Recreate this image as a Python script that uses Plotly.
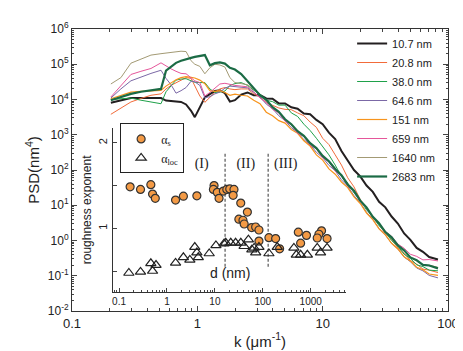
import plotly.graph_objects as go

# shared k grid (log10 of k in 1/um)
log_k = [-0.69, -0.61, -0.53, -0.45, -0.37, -0.29, -0.25, -0.21, -0.17, -0.13, -0.09,
         -0.05, -0.02, 0.02, 0.06, 0.10, 0.14, 0.18, 0.22, 0.26, 0.30, 0.35,
         0.40, 0.45, 0.50, 0.55, 0.60, 0.65, 0.70, 0.75, 0.80, 0.85, 0.90, 0.95,
         1.00, 1.05, 1.10, 1.15, 1.20, 1.25, 1.30, 1.35, 1.40, 1.45, 1.50, 1.55,
         1.60, 1.65, 1.70, 1.75, 1.80, 1.85, 1.92]

# log10 PSD (nm^4) for each scan length
psd_107 = [3.91, 3.98, 4.04, 4.04, 4.04, 4.04, 3.97, 3.96, 3.95, 3.93, 3.86,
           3.68, 3.50, 3.80, 4.06, 4.15, 4.24, 4.26, 4.18, 3.94, 3.98, 4.14,
           4.20, 4.12, 4.13, 4.03, 4.02, 3.89, 3.89, 3.78, 3.74, 3.60, 3.58, 3.42,
           3.30, 3.06, 2.88, 2.54, 2.27, 2.00, 1.82, 1.56, 1.38, 1.10, 0.94, 0.68,
           0.48, 0.20, 0.02, -0.21, -0.32, -0.47, -0.54]
psd_208 = [3.58, 3.76, 3.93, 4.03, 4.12, 4.16, 4.30, 4.40, 4.47, 4.56, 4.62,
           4.60, 4.40, 4.10, 3.92, 4.05, 4.20, 4.30, 4.34, 4.30, 4.28, 4.30,
           4.30, 4.16, 4.07, 3.91, 3.84, 3.76, 3.72, 3.71, 3.62, 3.54, 3.36, 3.21,
           2.90, 2.72, 2.43, 2.14, 1.78, 1.52, 1.16, 0.92, 0.64, 0.45, 0.19, 0.03,
           -0.21, -0.36, -0.57, -0.67, -0.81, -0.84, -0.91]
psd_380 = [4.00, 4.02, 4.04, 3.98, 3.93, 3.88, 4.22, 4.40, 4.55, 4.58, 4.59,
           4.53, 4.49, 4.48, 4.48, 4.30, 4.20, 4.21, 4.24, 4.40, 4.45, 4.48,
           4.40, 4.26, 4.16, 3.98, 3.94, 3.84, 3.84, 3.62, 3.52, 3.30, 3.12, 2.90,
           2.68, 2.43, 2.14, 1.82, 1.62, 1.35, 1.14, 0.87, 0.68, 0.42, 0.24, 0.00,
           -0.16, -0.39, -0.51, -0.69, -0.74, -0.84, -0.86]
psd_646 = [4.04, 4.30, 4.53, 4.64, 4.74, 4.83, 4.60, 4.42, 4.18, 4.25, 4.34,
           4.52, 4.50, 4.40, 4.05, 4.08, 4.16, 4.21, 4.32, 4.38, 4.36, 4.34,
           4.33, 4.20, 4.07, 3.87, 3.74, 3.54, 3.40, 3.20, 3.06, 2.86, 2.72, 2.50,
           2.35, 2.13, 1.98, 1.72, 1.54, 1.27, 1.07, 0.80, 0.60, 0.34, 0.16, -0.08,
           -0.24, -0.47, -0.60, -0.78, -0.86, -0.99, -1.06]
psd_151 = [4.02, 4.12, 4.21, 4.23, 4.24, 4.26, 4.38, 4.48, 4.56, 4.62, 4.65,
           4.63, 4.61, 4.55, 4.45, 4.25, 4.23, 4.25, 4.20, 4.12, 4.15, 4.12,
           4.10, 3.98, 3.88, 3.64, 3.54, 3.40, 3.33, 3.15, 3.04, 2.83, 2.68, 2.43,
           2.28, 2.03, 1.88, 1.66, 1.50, 1.24, 1.05, 0.78, 0.59, 0.33, 0.16, -0.08,
           -0.24, -0.46, -0.58, -0.76, -0.83, -0.95, -0.99]
psd_659 = [4.07, 4.40, 4.71, 4.80, 4.88, 5.04, 4.95, 4.87, 4.80, 4.74, 4.73,
           4.60, 4.53, 4.48, 4.10, 4.20, 4.32, 4.44, 4.46, 4.42, 4.40, 4.38,
           4.36, 4.22, 4.04, 3.92, 3.72, 3.62, 3.38, 3.28, 3.04, 2.95, 2.70, 2.60,
           2.34, 2.23, 1.97, 1.84, 1.54, 1.39, 1.10, 0.92, 0.66, 0.49, 0.26, 0.12,
           -0.10, -0.22, -0.39, -0.45, -0.55, -0.54, -0.58]
psd_1640 = [4.44, 4.62, 5.03, 5.15, 5.26, 5.30, 5.32, 5.34, 5.37, 5.37, 5.36,
            5.10, 5.00, 4.94, 4.73, 4.90, 5.00, 4.98, 4.92, 4.62, 4.48, 4.45,
            4.42, 4.29, 4.10, 3.97, 3.78, 3.64, 3.43, 3.29, 3.10, 2.96, 2.75, 2.59,
            2.38, 2.23, 2.01, 1.83, 1.57, 1.38, 1.11, 0.91, 0.65, 0.47, 0.22, 0.07,
            -0.16, -0.30, -0.49, -0.57, -0.69, -0.70, -0.76]
psd_2683 = [3.98, 4.07, 4.16, 4.22, 4.26, 4.30, 4.82, 4.93, 5.04, 5.10, 5.15,
            5.18, 5.21, 5.24, 5.26, 4.97, 5.03, 5.05, 5.02, 4.90, 4.85, 4.72,
            4.52, 4.32, 4.12, 3.99, 3.78, 3.65, 3.44, 3.30, 3.10, 2.97, 2.76, 2.62,
            2.40, 2.25, 2.03, 1.85, 1.59, 1.41, 1.13, 0.94, 0.67, 0.49, 0.24, 0.09,
            -0.14, -0.28, -0.48, -0.56, -0.69, -0.71, -0.79]

scan_labels = ["10.7 nm", "20.8 nm", "38.0 nm", "64.6 nm", "151 nm", "659 nm", "1640 nm", "2683 nm"]
scan_psd = [psd_107, psd_208, psd_380, psd_646, psd_151, psd_659, psd_1640, psd_2683]
scan_colors = ["#231f20", "#f26b3a", "#1fa14a", "#7b68a6", "#f7941d", "#e5569a", "#a39a74", "#1b6b45"]
scan_widths = [2, 1, 1, 1, 1.2, 1, 1, 2.2]

# inset: roughness exponents vs d (nm)
d_s = [0.17, 0.28, 0.46, 0.50, 0.57, 1.51, 2.2, 4.2, 9.6, 9.3, 11.2, 12.2, 15.0, 17.7,
       20.4, 25, 24, 34.6, 47.6, 31.6, 38.5, 40.8, 58.4, 70.8, 83, 83, 134, 185, 224,
       550, 815, 615, 1680, 1480, 1365, 2190]
alpha_s = [1.485, 1.455, 1.51, 1.40, 1.35, 1.33, 1.375, 1.38, 1.50, 1.455, 1.42, 1.35, 1.435, 1.455,
           1.46, 1.455, 1.386, 1.295, 1.19, 1.106, 1.094, 1.05, 1.008, 1.015, 0.98, 0.85, 0.89, 0.88, 0.76,
           0.955, 0.917, 0.826, 0.97, 0.93, 0.886, 0.88]
d_loc = [0.16, 0.28, 0.46, 0.59, 0.50, 1.51, 2.2, 3.0, 3.8, 4.2, 4.5, 7.6, 10.5, 15.5,
         16.8, 21.4, 27, 34.7, 50, 40.7, 59, 66, 83, 71, 134, 200,
         445, 500, 615, 850, 1365, 1600, 2190]
alpha_loc = [0.477, 0.49, 0.59, 0.57, 0.50, 0.595, 0.66, 0.63, 0.78, 0.716, 0.66, 0.705, 0.80, 0.82,
             0.83, 0.83, 0.83, 0.83, 0.867, 0.79, 0.75, 0.77, 0.78, 0.716, 0.705, 0.78,
             0.77, 0.69, 0.69, 0.69, 0.77, 0.716, 0.77]
regime_bounds = [16.3, 129]
regime_labels = ["(I)", "(II)", "(III)"]
regime_x = [5.3, 44, 300]

FONT = "Liberation Sans, Arial, sans-serif"

fig = go.Figure()

k_vals = [10 ** v for v in log_k]
for name, vals, col, w in zip(scan_labels, scan_psd, scan_colors, scan_widths):
    fig.add_trace(go.Scatter(
        x=k_vals, y=[10 ** v for v in vals], mode="lines", name=name,
        line=dict(color=col, width=w), xaxis="x", yaxis="y", legend="legend"))

# inset traces
for xb in regime_bounds:
    fig.add_trace(go.Scatter(
        x=[xb, xb], y=[0.55, 1.88], mode="lines", showlegend=False,
        line=dict(color="#333333", width=1, dash="3px,2px"), xaxis="x2", yaxis="y2"))
fig.add_trace(go.Scatter(
    x=regime_x, y=[1.75] * 3, mode="text", text=regime_labels, showlegend=False,
    textfont=dict(family="Liberation Serif, Times New Roman, serif", size=14, color="#222"),
    xaxis="x2", yaxis="y2"))
fig.add_trace(go.Scatter(
    x=d_s, y=alpha_s, mode="markers", name="α<sub>s</sub>",
    marker=dict(symbol="circle", size=8, color="#f39a45", line=dict(color="#333333", width=1.2)),
    xaxis="x2", yaxis="y2", legend="legend2"))
fig.add_trace(go.Scatter(
    x=d_loc, y=alpha_loc, mode="markers", name="α<sub>loc</sub>",
    marker=dict(symbol="triangle-up-open", size=9, color="#222222", line=dict(width=1.2)),
    xaxis="x2", yaxis="y2", legend="legend2"))

minor_main_x = [m * 10 ** e for e in range(-1, 2) for m in range(2, 10)]
minor_main_y = [m * 10.0 ** e for e in range(-2, 6) for m in range(2, 10)]
minor_inset_x = [m * 10.0 ** e for e in range(-2, 4) for m in range(2, 10)]

fig.update_layout(
    width=463, height=351,
    margin=dict(l=64, r=20, t=15, b=46),
    paper_bgcolor="white", plot_bgcolor="rgba(0,0,0,0)",
    font=dict(family=FONT, color="#222222"),
    xaxis=dict(type="log", range=[-1, 2], domain=[0, 1],
               tickmode="array", tickvals=[0.1, 1, 10, 100], ticktext=["0.1", "1", "10", "100"],
               ticks="inside", ticklen=5, mirror="ticks", showline=True, linecolor="#333", linewidth=1,
               showgrid=False, zeroline=False, tickfont=dict(size=13),
               minor=dict(tickmode="array", tickvals=minor_main_x, ticks="inside", ticklen=3, showgrid=False),
               title=dict(text="k (μm<sup>-1</sup>)", font=dict(size=15), standoff=6)),
    yaxis=dict(type="log", range=[-2, 6], domain=[0, 1],
               tickmode="array", tickvals=[10.0 ** e for e in range(-2, 7)],
               ticktext=["10<sup>%d</sup>" % e for e in range(-2, 7)],
               ticks="inside", ticklen=5, mirror="ticks", showline=True, linecolor="#333", linewidth=1,
               showgrid=False, zeroline=False, tickfont=dict(size=12),
               minor=dict(tickmode="array", tickvals=minor_main_y, ticks="inside", ticklen=2, showgrid=False),
               title=dict(text="PSD(nm<sup>4</sup>)", font=dict(size=15), standoff=4)),
    xaxis2=dict(type="log", range=[-1.135, 3.73], domain=[0.108, 0.728], anchor="y2",
                tickmode="array", tickvals=[0.1, 1, 10, 100, 1000], ticktext=["0.1", "1", "10", "100", "1000"],
                ticks="inside", ticklen=4, showline=True, linecolor="#333", linewidth=1,
                showgrid=False, zeroline=False, tickfont=dict(size=10),
                minor=dict(tickmode="array", tickvals=minor_inset_x, ticks="inside", ticklen=2, showgrid=False)),
    yaxis2=dict(range=[0.26, 2.17], domain=[0.069, 0.648], anchor="x2",
                tickmode="array", tickvals=[0.5, 1, 1.5, 2], ticktext=["", "1", "", "2"],
                ticks="inside", ticklen=4, showline=True, linecolor="#333", linewidth=1,
                showgrid=False, zeroline=False, tickfont=dict(size=11), tickangle=-90,
                title=dict(text="roughness exponent", font=dict(size=12), standoff=2)),
    legend=dict(x=0.745, y=1.0, xanchor="left", yanchor="top", bgcolor="rgba(0,0,0,0)",
                font=dict(size=11), tracegroupgap=0),
    legend2=dict(x=0.128, y=0.665, xanchor="left", yanchor="top", bgcolor="white",
                 bordercolor="#222", borderwidth=1, itemwidth=30,
                 font=dict(size=12, family="Liberation Serif, serif")),
    annotations=[dict(text="d (nm)", x=0.42, y=0.1, xref="paper", yref="paper",
                      showarrow=False, font=dict(size=14))],
)

fig.write_html("out.html")
